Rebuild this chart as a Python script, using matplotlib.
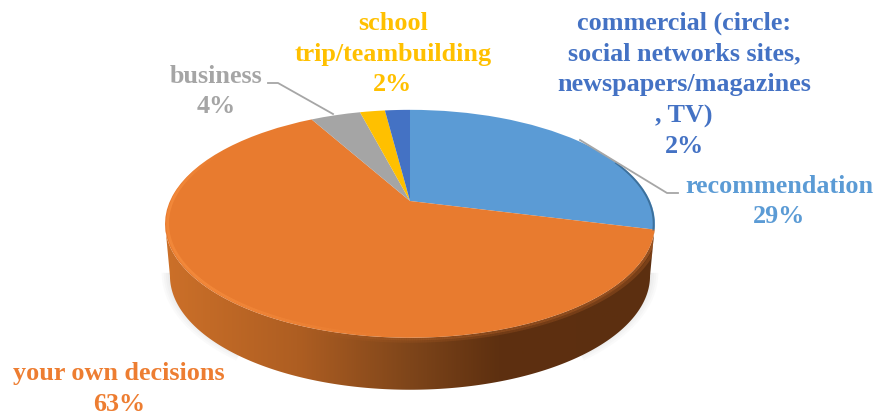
import numpy as np
import matplotlib
matplotlib.use('Agg')
import matplotlib.pyplot as plt
from matplotlib.collections import LineCollection
from matplotlib.colors import LinearSegmentedColormap, to_rgba
from matplotlib.patches import PathPatch
from matplotlib.path import Path
from matplotlib.transforms import Transform

plt.rcParams['font.family'] = ['Liberation Serif', 'DejaVu Serif']

categories = ['recommendation', 'your own decisions', 'business',
              'school\ntrip/teambuilding',
              'commercial (circle:\nsocial networks sites,\nnewspapers/magazines\n, TV)']
shares = [29, 63, 4, 2, 2]
pie_colors = ['#5B9BD5', '#E87B2F', '#A5A5A5', '#FFC000', '#4472C4']
text_colors = ['#5B9BD5', '#ED7D31', '#A5A5A5', '#FFC000', '#4472C4']
label_pos = [(779, 201.5), (119, 389), (216, 91.5), (393, 54), (684, 85)]

# the tilted pie: a flat unit circle seen in perspective, hub above ellipse centre
CX, HUB_Y, RX, RY, K = 410, 201, 240, 109.4, 0.2
DEPTH = 52


class Tilt(Transform):
    input_dims = 2
    output_dims = 2

    def transform_non_affine(self, values):
        values = np.asarray(values, dtype=float)
        w = 1 + K * values[:, 1]
        return np.column_stack([CX + RX * values[:, 0] / w,
                                HUB_Y - RY * values[:, 1] / w])


tilt = Tilt()


def edge(theta, r=1.0):
    return tilt.transform(np.column_stack([r * np.sin(theta), r * np.cos(theta)]))


fig = plt.figure(figsize=(8.77, 4.16), dpi=100)
ax = fig.add_axes([0, 0, 1, 1])

wedges, _ = ax.pie(shares, colors=pie_colors, startangle=90, counterclock=False,
                   wedgeprops={'linewidth': 0, 'zorder': 5})
for w in wedges:
    w.set_transform(tilt + ax.transData)

# side wall, lower half of the rim pushed down
theta = np.linspace(0, 2 * np.pi, 721)
rim = edge(theta)
right_i, left_i = np.argmax(rim[:, 0]), np.argmin(rim[:, 0])
front = rim[right_i:left_i + 1]
base = front.copy()
base[:, 0] = CX + (front[:, 0] - CX) * 0.98
base[:, 1] += DEPTH

# soft shadow at the two sides of the base
for lw in [12, 9, 6, 3]:
    keep = np.abs(base[:, 0] - CX) > 170
    ax.plot(np.where(keep, base[:, 0], np.nan), base[:, 1] - 3, color='#808080',
            lw=lw, alpha=0.035, solid_capstyle='butt', zorder=1)

wall_cmap = LinearSegmentedColormap.from_list('wall', [
    (0.0, '#CC7029'), (0.27, '#AE5E22'), (0.50, '#7E451A'),
    (0.68, '#5E3010'), (1.0, '#5C2F10')])
wall_img = ax.imshow(np.linspace(0, 1, 256)[None, :], cmap=wall_cmap, aspect='auto',
                     extent=(165, 655, 400, 220), zorder=2)
wall_path = Path(np.vstack([front, base[::-1], front[:1]]), closed=True)
wall_clip = PathPatch(wall_path, transform=ax.transData)
wall_img.set_clip_path(wall_clip)

# bevel: bright on the lit left front, blurred dark on the right
t_bevel = np.radians(np.linspace(100, 300, 401))
pts = edge(t_bevel, 0.99)
segs = np.stack([pts[:-1], pts[1:]], axis=1)
mid = np.degrees((t_bevel[:-1] + t_bevel[1:]) / 2)
bright = np.clip((mid - 180) / 50, 0, 1) * np.clip((300 - mid) / 25, 0, 1)
seg_colors = [to_rgba('#F68D3E', 0.8 * b) for b in bright]
ax.add_collection(LineCollection(segs, colors=seg_colors, linewidths=2.0, zorder=6))

t_dark = np.radians(np.linspace(100, 200, 301))
for off, alpha in [(1.006, 0.8), (1.02, 0.4)]:
    pts = edge(t_dark, off)
    segs = np.stack([pts[:-1], pts[1:]], axis=1)
    fade = np.linspace(1, 0.0, len(segs)) ** 0.5
    dark_rim = LineCollection(segs, colors=[to_rgba('#B9652A', alpha * f) for f in fade],
                              linewidths=2.2, zorder=4)
    ax.add_collection(dark_rim)
    dark_rim.set_clip_path(wall_clip)

# dark sliver on the blue rim at the right
t_blue = np.radians(np.linspace(68, 104.4, 80))
pts = edge(t_blue, 0.995)
ax.plot(pts[:, 0], pts[:, 1], color='#2F5F85', lw=1.4, alpha=0.7, zorder=6)

# leader lines
ax.plot([268, 278, 333], [83, 83, 114], color='#A6A6A6', lw=1.3, zorder=7)
ax.plot([678, 667, 580], [193, 193, 140], color='#A6A6A6', lw=1.3, zorder=7)

for name, share, col, (x, y) in zip(categories, shares, text_colors, label_pos):
    ax.text(x, y, f'{name}\n{share}%', color=col, ha='center', va='center',
            fontsize=18.8, fontweight='bold', linespacing=1.43, zorder=8)

ax.set_aspect('auto')
ax.set_xlim(0, 877)
ax.set_ylim(416, 0)
ax.axis('off')

fig.savefig('out.png', dpi=100, facecolor='white')
